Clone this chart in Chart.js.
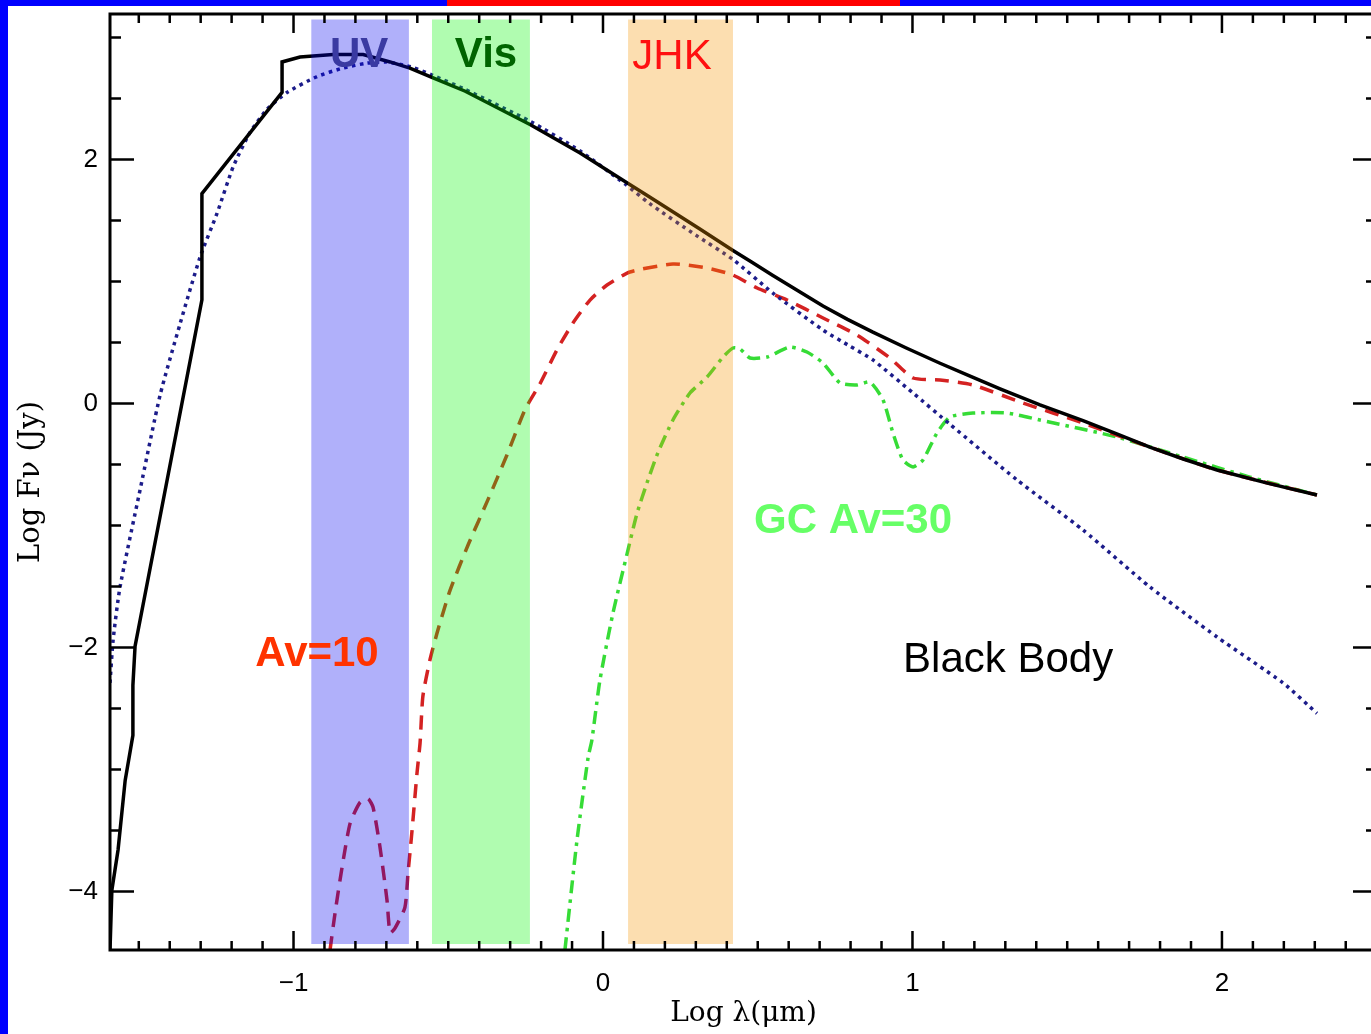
<!DOCTYPE html>
<html>
<head>
<meta charset="utf-8">
<script src="https://cdn.jsdelivr.net/npm/chart.js@4.4.0/dist/chart.umd.min.js"></script>
<style>
  html, body { margin: 0; padding: 0; background: #fff; overflow: hidden; }
  #wrap { position: absolute; left: 0; top: 0; width: 1380px; height: 1034px; }
  .bar { position: absolute; }
</style>
</head>
<body>
<div id="wrap"><canvas id="sed" width="1380" height="1034"></canvas></div>
<div class="bar" style="left:0;top:0;width:8px;height:1034px;background:#0000ff"></div>
<div class="bar" style="left:0;top:0;width:1371px;height:6px;background:#0000ff"></div>
<div class="bar" style="left:447px;top:0;width:453px;height:6px;background:#ff0000"></div>
<script>
// Axis ticks
const xTicks = [-1, 0, 1, 2];
const yTicks = [-4, -2, 0, 2];

// Stellar model (solid black)
const modelX = [-1.593, -1.587, -1.567, -1.544, -1.519, -1.519, -1.512, -1.296, -1.296, -1.037, -1.037,
  -0.979, -0.872, -0.775, -0.688, -0.624, -0.549, -0.445, -0.233, -0.074, 0.071, 0.152, 0.313, 0.420,
  0.480, 0.549, 0.630, 0.711, 0.790, 0.872, 0.980, 1.089, 1.190, 1.283, 1.412, 1.551, 1.660, 1.767,
  1.875, 1.984, 2.150, 2.307];
const modelY = [-4.48, -3.99, -3.66, -3.09, -2.72, -2.31, -1.99, 0.85, 1.72, 2.55, 2.80,
  2.84, 2.86, 2.86, 2.80, 2.75, 2.67, 2.56, 2.283, 2.053, 1.820, 1.690, 1.430, 1.255,
  1.160, 1.050, 0.925, 0.800, 0.690, 0.585, 0.455, 0.330, 0.220, 0.120, -0.012, -0.140, -0.250, -0.357,
  -0.455, -0.545, -0.655, -0.750];

// Black body (dotted)
const bbX = [-1.593, -1.583, -1.561, -1.496, -1.431, -1.367, -1.302, -1.247, -1.195, -1.141, -1.086,
  -1.021, -0.924, -0.840, -0.763, -0.700, -0.620, -0.550, -0.450, -0.233, -0.074, 0.071, 0.150, 0.300,
  0.420, 0.549, 0.711, 0.798, 0.872, 1.000, 1.121, 1.338, 1.551, 1.767, 1.984, 2.197, 2.307];
const bbY = [-2.29, -1.94, -1.51, -0.71, 0.07, 0.65, 1.20, 1.56, 1.94, 2.22, 2.41,
  2.55, 2.68, 2.75, 2.79, 2.80, 2.76, 2.69, 2.58, 2.31, 2.07, 1.80, 1.64, 1.38,
  1.18, 0.905, 0.602, 0.47, 0.357, 0.09, -0.17, -0.627, -1.037, -1.504, -1.914, -2.29, -2.54];

// Av=10 (dashed red)
const av10X = [-0.882, -0.866, -0.843, -0.817, -0.785, -0.759, -0.743, -0.721, -0.698, -0.688, -0.672,
  -0.640, -0.630, -0.617, -0.601, -0.591, -0.582, -0.559, -0.536, -0.494, -0.436, -0.372, -0.310, -0.252,
  -0.204, -0.149, -0.097, -0.042, 0.013, 0.087, 0.226, 0.336, 0.420, 0.498, 0.595, 0.711, 0.821, 0.927,
  1.002, 1.089, 1.195, 1.357, 1.551, 1.767, 1.984, 2.307];
const av10Y = [-4.48, -4.18, -3.80, -3.44, -3.27, -3.24, -3.31, -3.63, -4.07, -4.34, -4.30,
  -4.13, -3.85, -3.50, -3.03, -2.78, -2.40, -2.10, -1.88, -1.53, -1.16, -0.79, -0.42, -0.05,
  0.16, 0.438, 0.66, 0.848, 0.971, 1.078, 1.143, 1.111, 1.053, 0.947, 0.848, 0.701, 0.561, 0.373,
  0.209, 0.193, 0.152, 0.004, -0.160, -0.357, -0.545, -0.750];

// GC Av=30 (dash-dot green)
const gcX = [-0.123, -0.084, -0.048, -0.036, -0.010, 0.032, 0.078, 0.110, 0.145, 0.178, 0.226, 0.281,
  0.336, 0.388, 0.420, 0.443, 0.475, 0.530, 0.604, 0.659, 0.711, 0.766, 0.821, 0.863, 0.905, 0.937,
  0.969, 1.002, 1.034, 1.079, 1.121, 1.195, 1.305, 1.412, 1.661, 1.874, 2.090, 2.307];
const gcY = [-4.48, -3.58, -2.90, -2.76, -2.27, -1.72, -1.23, -0.90, -0.63, -0.40, -0.135, 0.086,
  0.217, 0.381, 0.455, 0.447, 0.373, 0.381, 0.463, 0.422, 0.332, 0.168, 0.152, 0.176, 0.029, -0.242,
  -0.463, -0.520, -0.463, -0.242, -0.111, -0.078, -0.078, -0.135, -0.275, -0.439, -0.603, -0.750];

// Wavelength bands
const bandNames = ['UV', 'Vis', 'JHK'];
const bandLo = [-0.943, -0.553, 0.081];
const bandHi = [-0.627, -0.236, 0.420];
const bandTop = 3.147;
const bandBottom = -4.43;
const bandColors = ['rgba(0,0,240,0.31)', 'rgba(0,245,0,0.31)', 'rgba(245,149,0,0.31)'];

// Annotations
const notes = [
  { text: 'UV', x: -0.788, y: 2.857, color: '#3a3aa2', weight: 'bold' },
  { text: 'Vis', x: -0.378, y: 2.857, color: '#006400', weight: 'bold' },
  { text: 'JHK', x: 0.223, y: 2.84, color: '#ff1010', weight: 'normal' },
  { text: 'Av=10', x: -0.924, y: -2.06, color: '#ff3300', weight: 'bold' },
  { text: 'GC Av=30', x: 0.808, y: -0.963, color: '#66ff66', weight: 'bold' },
  { text: 'Black Body', x: 1.309, y: -2.11, color: '#000000', weight: 'normal' }
];

const pts = (xs, ys) => xs.map((x, i) => ({ x, y: ys[i] }));
const minus = v => (v < 0 ? '\u2212' : '') + Math.abs(v);

const bandSets = bandNames.map((name, i) => ({
  label: name,
  data: [{ x: bandLo[i], y: bandTop }, { x: bandHi[i], y: bandTop }],
  fill: { value: bandBottom },
  backgroundColor: bandColors[i],
  borderWidth: 0,
  pointRadius: 0,
  clip: false
}));

const frameTicks = {
  id: 'frameTicks',
  afterDatasetsDraw(chart) {
    const { ctx, chartArea: a, scales: { x, y } } = chart;
    ctx.save();
    ctx.strokeStyle = '#000';
    ctx.lineWidth = 2.5;
    ctx.beginPath();
    for (let v = -15; v <= 25; v++) {
      const px = x.getPixelForValue(v / 10);
      const len = v % 10 === 0 ? 19 : 9;
      ctx.moveTo(px, a.bottom); ctx.lineTo(px, a.bottom - len);
      ctx.moveTo(px, a.top); ctx.lineTo(px, a.top + len);
    }
    for (let v = -8; v <= 6; v++) {
      const py = y.getPixelForValue(v / 2);
      const len = v % 4 === 0 ? 24 : 11;
      ctx.moveTo(a.left, py); ctx.lineTo(a.left + len, py);
      ctx.moveTo(a.right, py); ctx.lineTo(a.right - len, py);
    }
    ctx.stroke();
    ctx.lineWidth = 3;
    ctx.strokeRect(a.left, a.top, a.right - a.left, a.bottom - a.top);
    ctx.restore();
  },
  afterDraw(chart) {
    const { ctx, scales: { x, y } } = chart;
    ctx.save();
    ctx.textAlign = 'center';
    ctx.textBaseline = 'middle';
    notes.forEach(n => {
      ctx.font = n.weight + ' 42px "Liberation Sans", Arial, sans-serif';
      ctx.fillStyle = n.color;
      ctx.fillText(n.text, x.getPixelForValue(n.x), y.getPixelForValue(n.y));
    });
    ctx.restore();
  }
};

new Chart(document.getElementById('sed'), {
  type: 'line',
  data: {
    datasets: [
      ...bandSets,
      { label: 'Model', data: pts(modelX, modelY), borderColor: '#000', borderWidth: 3.5, pointRadius: 0, tension: 0, fill: false },
      { label: 'Black Body', data: pts(bbX, bbY), borderColor: '#1c1c8a', borderWidth: 3.5, borderDash: [3.5, 4.5], pointRadius: 0, tension: 0.2, fill: false },
      { label: 'Av=10', data: pts(av10X, av10Y), borderColor: '#d42222', borderWidth: 3.5, borderDash: [14, 9], pointRadius: 0, tension: 0.2, fill: false },
      { label: 'GC Av=30', data: pts(gcX, gcY), borderColor: '#36dc36', borderWidth: 3.5, borderDash: [13, 6, 3.5, 6], pointRadius: 0, tension: 0.2, fill: false }
    ]
  },
  options: {
    responsive: false,
    animation: false,
    devicePixelRatio: 1,
    layout: { padding: { top: 14, right: 3, left: 0, bottom: 0 } },
    plugins: { legend: { display: false }, tooltip: { enabled: false } },
    scales: {
      x: {
        type: 'linear', position: 'bottom', min: -1.593, max: 2.501,
        grid: { display: false, drawTicks: false }, border: { display: false },
        afterBuildTicks: s => { s.ticks = xTicks.map(v => ({ value: v })); },
        afterFit: s => { s.height = 84; s.paddingLeft = 0; s.paddingRight = 0; },
        ticks: { padding: 18, color: '#000', font: { family: '"Liberation Sans", Arial, sans-serif', size: 26 }, callback: minus, maxRotation: 0 },
        title: { display: true, text: 'Log \u03bb(\u03bcm)', color: '#000', padding: { top: 0, bottom: 3 }, font: { family: '"DejaVu Serif", serif', size: 28 } }
      },
      y: {
        type: 'linear', position: 'left', min: -4.48, max: 3.193,
        grid: { display: false, drawTicks: false }, border: { display: false },
        afterBuildTicks: s => { s.ticks = yTicks.map(v => ({ value: v })); },
        afterFit: s => { s.width = 110; s.paddingTop = 0; s.paddingBottom = 0; },
        ticks: { padding: 12, color: '#000', font: { family: '"Liberation Sans", Arial, sans-serif', size: 26 }, callback: minus },
        title: { display: true, text: 'Log F\u03bd (Jy)', color: '#000', padding: { top: 14, bottom: 0 }, font: { family: '"DejaVu Serif", serif', size: 29 } }
      }
    }
  },
  plugins: [frameTicks]
});
</script>
</body>
</html>
